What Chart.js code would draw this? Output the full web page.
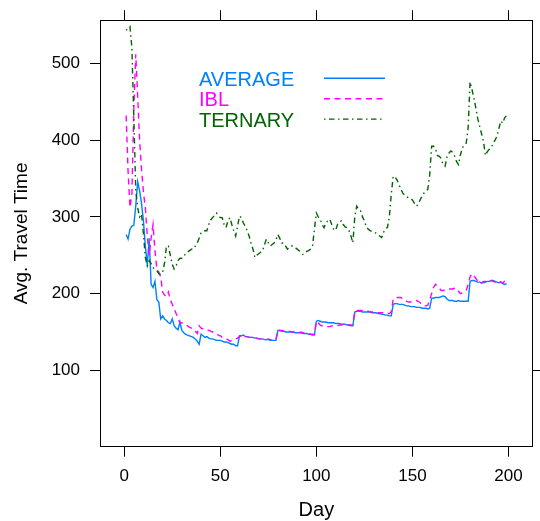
<!DOCTYPE html>
<html><head><meta charset="utf-8">
<script src="https://cdn.jsdelivr.net/npm/chart.js@4/dist/chart.umd.min.js"></script>
<style>html,body{margin:0;padding:0;background:#fff;}#wrap{width:540px;height:521px;}</style>
</head><body><div id="wrap"><canvas id="c" width="540" height="521"></canvas></div>
<script>
const seriesNames = ['AVERAGE', 'IBL', 'TERNARY'];
const average = [
277,271,284,288,289,314,346,334,318,295,262,237,272,212,208,216,192,189,167,171,
167,165,162,161,167,158,155,153,163,152,149,147,146,145,144,143,141,138,134,147,
145,143,144,142,141,141,140,139,139,139,138,137,137,136,135,134,134,132,132,
145,145,146,144,144,143,143,143,142,142,141,141,141,140,140,140,139,139,139,139,
152,152,151,151,150,150,150,150,150,149,149,149,149,148,148,148,147,147,146,146,
164,165,164,163,163,163,162,162,162,162,161,161,161,160,160,160,159,159,158,158,
176,177,177,177,176,176,176,176,176,175,175,175,174,174,173,173,172,172,171,171,
186,187,187,186,186,186,185,184,184,183,183,183,182,182,182,181,181,181,180,181,
194,194,195,195,195,196,197,196,193,191,191,191,190,190,191,190,190,190,190,190,
216,217,217,216,215,215,214,214,215,216,216,217,217,216,215,214,215,213,212,213
];
const ibl = [
432,360,312,330,440,512,458,400,362,332,312,275,250,272,290,256,232,228,222,202,
198,196,202,192,186,180,174,168,162,162,160,159,158,156,155,154,151,148,158,155,
154,153,153,152,151,150,149,148,146,145,143,142,141,140,138,139,140,141,142,
144,145,145,144,144,143,143,142,142,142,141,141,141,140,140,141,140,140,140,141,
153,152,152,151,151,150,151,150,150,150,150,149,150,149,148,148,148,147,147,147,
164,162,159,158,157,157,157,157,158,158,158,158,159,159,160,160,160,159,159,159,
176,178,178,178,178,178,177,177,176,176,176,176,175,175,175,175,174,174,174,176,
193,194,195,195,195,193,191,190,189,189,190,191,191,190,188,186,184,184,185,192,
200,208,212,210,207,204,204,205,206,206,206,206,207,207,203,200,201,202,204,212,
222,226,223,220,216,213,214,216,216,215,216,217,216,215,214,216,215,214,216,215
];
const ternary = [
543,546,548,520,430,335,312,300,304,278,247,236,243,239,234,231,230,226,225,228,
240,262,262,250,238,232,236,243,246,246,249,252,254,256,258,258,262,266,272,279,
281,282,282,290,296,299,302,305,302,299,299,290,286,295,299,290,282,275,288,
301,299,292,288,282,275,266,258,247,250,252,254,256,264,271,266,262,264,266,270,
277,272,266,266,262,258,260,262,262,260,258,256,253,251,253,255,256,258,262,284,
305,300,297,290,286,292,295,297,290,284,282,290,293,295,290,287,286,282,275,266,
300,314,310,308,300,295,287,284,282,281,280,279,277,275,273,280,285,286,300,330,
353,352,348,342,336,331,328,326,325,324,322,318,314,316,322,327,331,333,336,355,
392,392,389,380,379,376,368,366,378,383,386,384,379,372,368,381,390,394,396,416,
476,466,455,442,428,418,408,398,380,385,388,390,396,400,405,415,425,422,429,432
];
const xTicks = [0, 50, 100, 150, 200];
const yTicks = [100, 200, 300, 400, 500];
const xTitle = 'Day';
const yTitle = 'Avg. Travel Time';
const colors = ['#0080ff', '#ff00ff', '#006400'];

const days = average.map((_, i) => i + 1);
const seriesValues = [average, ibl, ternary];
const dashes = [[], [6, 4.5], [1.5, 3.5, 5.5, 3.5]];

const FONT = '"Liberation Sans", Arial, Helvetica, sans-serif';
const X_MIN = -12.6, X_MAX = 212.6, Y_MIN = 0.5, Y_MAX = 556.3;

const datasets = seriesNames.map((name, i) => ({
  label: name,
  data: seriesValues[i].map((v, j) => ({x: days[j], y: v})),
  borderColor: colors[i],
  backgroundColor: colors[i],
  borderWidth: 1.4,
  borderDash: dashes[i],
  pointRadius: 0,
  tension: 0,
  fill: false,
  order: 3 - i
}));

const keyPlugin = {
  id: 'latticeKey',
  afterDatasetsDraw(chart) {
    const ctx = chart.ctx;
    ctx.save();
    ctx.font = '20px ' + FONT;
    ctx.textBaseline = 'alphabetic';
    ctx.textAlign = 'left';
    chart.data.datasets.forEach((ds, i) => {
      const base = 85.7 + i * 20.5;
      const ly = 78.3 + i * 20.4;
      ctx.fillStyle = ds.borderColor;
      ctx.fillText(ds.label, 199, base);
      ctx.strokeStyle = ds.borderColor;
      ctx.lineWidth = ds.borderWidth;
      ctx.setLineDash(ds.borderDash || []);
      ctx.beginPath();
      ctx.moveTo(324, ly);
      ctx.lineTo(385, ly);
      ctx.stroke();
    });
    ctx.restore();
  }
};

const tickSetter = (vals) => (scale) => { scale.ticks = vals.map(v => ({value: v})); };
const gridOpts = {display: true, drawOnChartArea: false, drawTicks: true, tickLength: 10, color: '#000', lineWidth: 1};
const borderOpts = {display: true, color: '#000', width: 1};

new Chart(document.getElementById('c'), {
  type: 'line',
  data: {datasets},
  plugins: [keyPlugin],
  options: {
    responsive: false,
    animation: false,
    devicePixelRatio: 1,
    layout: {padding: {left: 0, right: 0, top: 0, bottom: 0}},
    plugins: {legend: {display: false}, tooltip: {enabled: false}},
    scales: {
      x: {
        type: 'linear', position: 'bottom', min: X_MIN, max: X_MAX,
        afterBuildTicks: tickSetter(xTicks),
        afterFit: (s) => { s.height = 74.3; },
        grid: gridOpts, border: borderOpts,
        ticks: {color: '#000', font: {family: FONT, size: 17}, padding: 9, maxRotation: 0, autoSkip: false},
        title: {display: true, text: xTitle, color: '#000', font: {family: FONT, size: 20, lineHeight: 1}, padding: {top: 0, bottom: 1}}
      },
      x2: {
        type: 'linear', position: 'top', min: X_MIN, max: X_MAX,
        afterBuildTicks: tickSetter(xTicks),
        afterFit: (s) => { s.height = 18.3; },
        grid: gridOpts, border: borderOpts,
        ticks: {display: false}
      },
      y: {
        type: 'linear', position: 'left', min: Y_MIN, max: Y_MAX,
        afterBuildTicks: tickSetter(yTicks),
        afterFit: (s) => { s.width = 100; },
        grid: gridOpts, border: borderOpts,
        ticks: {color: '#000', font: {family: FONT, size: 17}, padding: 10},
        title: {display: true, text: yTitle, color: '#000', font: {family: FONT, size: 19, lineHeight: 1}, padding: {top: 12, bottom: 0}}
      },
      y2: {
        type: 'linear', position: 'right', min: Y_MIN, max: Y_MAX,
        afterBuildTicks: tickSetter(yTicks),
        afterFit: (s) => { s.width = 7.3; },
        grid: gridOpts, border: borderOpts,
        ticks: {display: false}
      }
    }
  }
});
</script>
</body></html>
